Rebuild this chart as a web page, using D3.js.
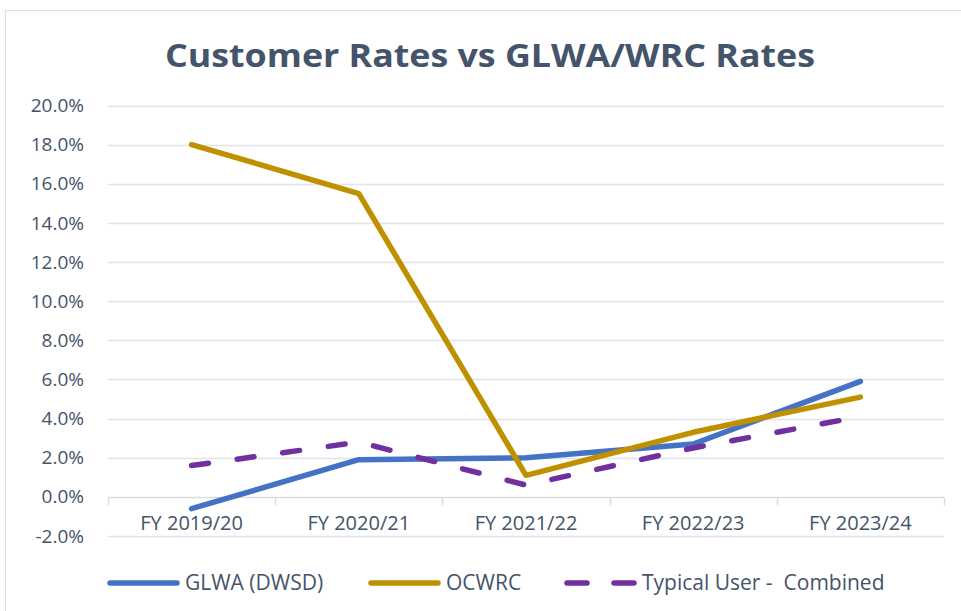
<!DOCTYPE html>
<html>
<head>
<meta charset="utf-8">
<script src="https://cdn.jsdelivr.net/npm/d3@7"></script>
<style>
  body { margin: 0; background: #fff; }
  text { font-family: "Open Sans", "Liberation Sans", sans-serif; }
</style>
</head>
<body>
<div id="chart-area"></div>
<script>

// data
let years = ["FY 2019/20", "FY 2020/21", "FY 2021/22", "FY 2022/23", "FY 2023/24"];
let glwa = [-0.6, 1.9, 2.0, 2.7, 5.9];
let ocwrc = [18.0, 15.5, 1.1, 3.3, 5.1];
let typical = [1.6, 2.8, 0.6, 2.5, 4.1];
let yTicks = [-2, 0, 2, 4, 6, 8, 10, 12, 14, 16, 18, 20];

let series = [
	{name: "GLWA (DWSD)", values: glwa, color: "#4472C4", dash: null},
	{name: "OCWRC", values: ocwrc, color: "#BF9000", dash: null},
	{name: "Typical User -  Combined", values: typical, color: "#7030A0", dash: "17,29"}
];

let W = 961, H = 611;

let svg = d3.select("#chart-area").append("svg")
	.attr("width", W)
	.attr("height", H);

// chart frame
svg.append("rect")
	.attr("x", 5.5).attr("y", 10.5)
	.attr("width", W + 10).attr("height", H + 10)
	.attr("fill", "#fff")
	.attr("stroke", "#D9DDE6");

// title
svg.append("text")
	.attr("x", 490).attr("y", 67)
	.attr("text-anchor", "middle")
	.attr("font-size", 33)
	.attr("font-weight", "bold")
	.attr("fill", "#44546A")
	.attr("textLength", 650)
	.attr("lengthAdjust", "spacingAndGlyphs")
	.text("Customer Rates vs GLWA/WRC Rates");

let x = d3.scaleBand()
	.domain(years)
	.range([108, 944]);

let y = d3.scaleLinear()
	.domain([-2, 20])
	.range([536, 105.5]);

// gridlines
svg.append("g")
	.selectAll("line")
	.data(yTicks.filter(d => d !== 0))
	.enter().append("line")
	.attr("x1", 108).attr("x2", 944)
	.attr("y1", d => Math.round(y(d)) + 0.5)
	.attr("y2", d => Math.round(y(d)) + 0.5)
	.attr("stroke", "#E1E4E9")
	.attr("stroke-width", 1.5);

// y axis labels
let yAxis = d3.axisLeft(y)
	.tickValues(yTicks)
	.tickSize(0)
	.tickPadding(0)
	.tickFormat(d => d.toFixed(1) + "%");

let yAxisGroup = svg.append("g")
	.attr("transform", "translate(84,0)")
	.call(yAxis);
yAxisGroup.select(".domain").remove();
yAxisGroup.selectAll("text")
	.attr("font-size", 19)
	.attr("fill", "#44546A")
	.attr("font-family", "Open Sans, sans-serif");

// x axis at zero
let zeroY = Math.round(y(0)) + 0.5;
let xAxisGroup = svg.append("g");
xAxisGroup.append("line")
	.attr("x1", 108).attr("x2", 944)
	.attr("y1", zeroY).attr("y2", zeroY)
	.attr("stroke", "#D9DDE3")
	.attr("stroke-width", 1.5);
let bounds = years.map(d => x(d)).concat([x.range()[1]]);
xAxisGroup.selectAll(".tickmark")
	.data(bounds)
	.enter().append("line")
	.attr("class", "tickmark")
	.attr("x1", d => Math.round(d) + 0.5).attr("x2", d => Math.round(d) + 0.5)
	.attr("y1", zeroY).attr("y2", zeroY + 8)
	.attr("stroke", "#D9DDE3")
	.attr("stroke-width", 1.5);
xAxisGroup.selectAll(".cat")
	.data(years)
	.enter().append("text")
	.attr("class", "cat")
	.attr("x", d => x(d) + x.bandwidth() / 2)
	.attr("y", 530)
	.attr("text-anchor", "middle")
	.attr("font-size", 20)
	.attr("fill", "#44546A")
	.text(d => d);

// lines
let line = d3.line()
	.x((d, i) => x(years[i]) + x.bandwidth() / 2)
	.y(d => y(d));

svg.selectAll(".series")
	.data(series)
	.enter().append("path")
	.attr("class", "series")
	.attr("d", d => line(d.values))
	.attr("fill", "none")
	.attr("stroke", d => d.color)
	.attr("stroke-width", 5.5)
	.attr("stroke-linejoin", "round")
	.attr("stroke-linecap", "round")
	.attr("stroke-dasharray", d => d.dash);

// legend
let legendX = [110, 371, 567];
let legend = svg.selectAll(".legend")
	.data(series)
	.enter().append("g")
	.attr("class", "legend")
	.attr("transform", (d, i) => "translate(" + legendX[i] + ",583)");
legend.append("line")
	.attr("x1", 0).attr("x2", d => d.dash ? 68 : 67)
	.attr("stroke", d => d.color)
	.attr("stroke-width", 5.5)
	.attr("stroke-linecap", "round")
	.attr("stroke-dasharray", d => d.dash ? "20,27" : null);
legend.append("text")
	.attr("x", 75).attr("y", 7)
	.attr("font-size", 21)
	.attr("fill", "#44546A")
	.attr("xml:space", "preserve")
	.style("white-space", "pre")
	.text(d => d.name);

</script>
</body>
</html>
